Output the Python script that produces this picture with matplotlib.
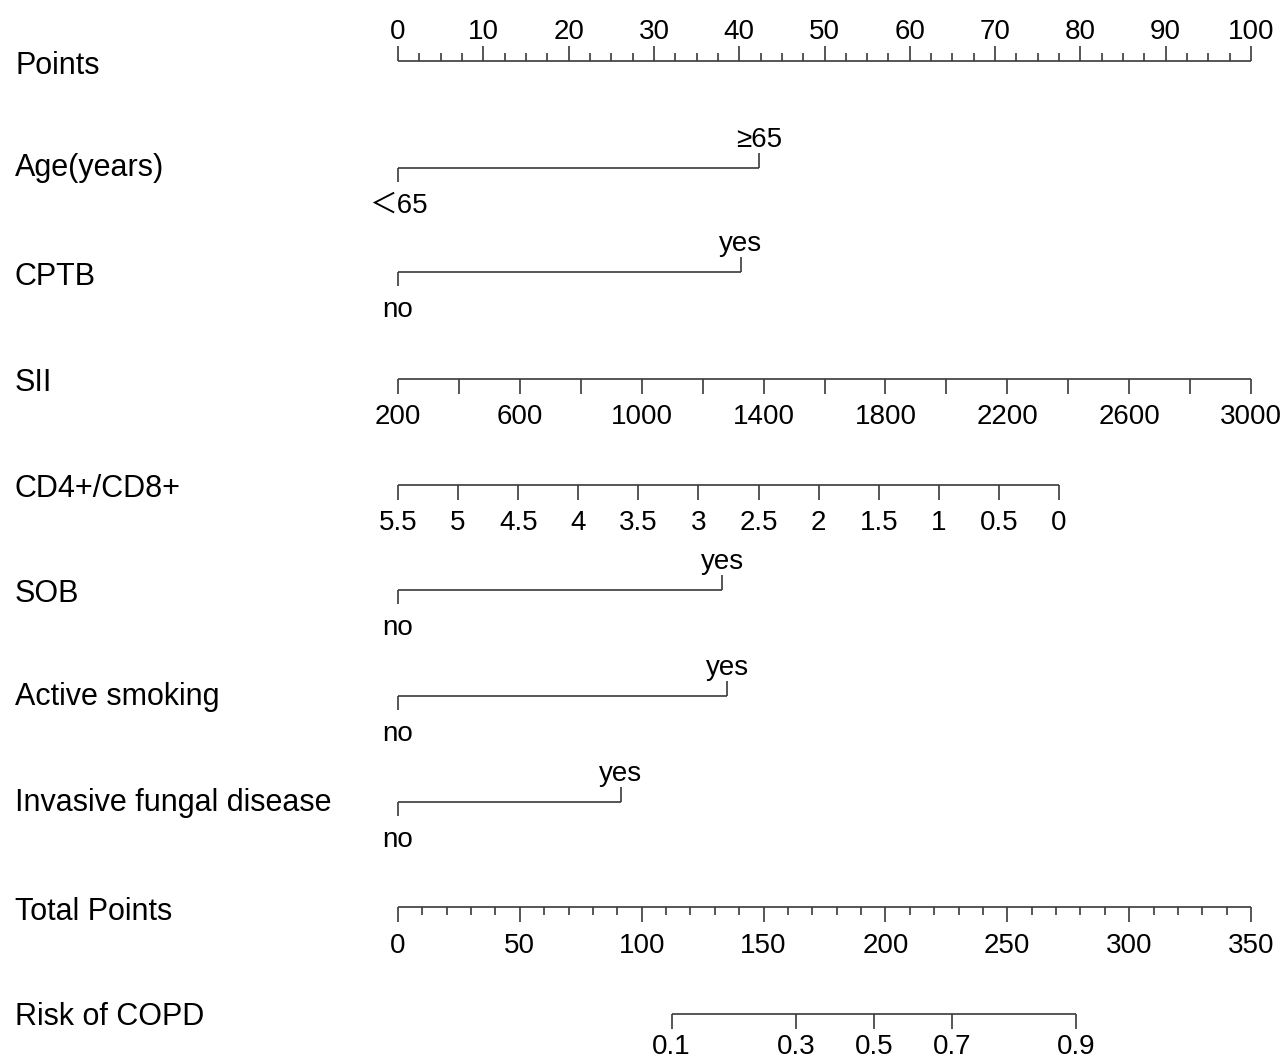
import numpy as np
import matplotlib.pyplot as plt

plt.rcParams['font.family'] = ['Liberation Sans', 'Noto Sans CJK SC', 'DejaVu Sans']

# row labels (top to bottom)
row_names = ['Points', 'Age(years)', 'CPTB', 'SII', 'CD4+/CD8+', 'SOB',
             'Active smoking', 'Invasive fungal disease', 'Total Points', 'Risk of COPD']

# binary predictors: points of the second level
age_levels = ['＜65', '≥65']
age_pts = [0, 42.3]
cptb_levels = ['no', 'yes']
cptb_pts = [0, 40.2]
sob_levels = ['no', 'yes']
sob_pts = [0, 38.0]
smoke_levels = ['no', 'yes']
smoke_pts = [0, 38.6]
ifd_levels = ['no', 'yes']
ifd_pts = [0, 26.1]

# continuous predictors
sii_ticks = np.arange(200, 3001, 200)
sii_labels = [200, 600, 1000, 1400, 1800, 2200, 2600, 3000]
sii_range = (200, 3000)          # -> 0..100 points
cd4_ticks = [5.5, 5, 4.5, 4, 3.5, 3, 2.5, 2, 1.5, 1, 0.5, 0]
cd4_max_pts = 77.5               # points at CD4/CD8 = 0

# total points and risk
total_max = 350
total_labels = [0, 50, 100, 150, 200, 250, 300, 350]
risk_ticks = [0.1, 0.3, 0.5, 0.7, 0.9]
risk_mid_total = 195.3           # total points where risk = 0.5
risk_scale = 37.8                # total points per logit unit

# layout (pixel rows)
W, H = 1286, 1061
x0, x1 = 398, 1251
row_y = [61, 168, 272, 379, 485, 590, 696, 802, 907, 1014]
label_y = [66, 168, 277, 383, 489, 594, 697, 803, 912, 1017]
FS_ROW = 22
FS = 20
LC = '#3a3a3a'
LW = 1.2
MAJ, MIN = 15, 8

fig = plt.figure(figsize=(W / 100, H / 100), dpi=100)
ax = fig.add_axes([0, 0, 1, 1])
ppp = (x1 - x0) / 100.0
ax.set_xlim(-x0 / ppp, (W - x0) / ppp)
ax.set_ylim(H, 0)
ax.axis('off')

for name, y in zip(row_names, label_y):
    ax.text(15 / W, y, name, transform=ax.get_yaxis_transform(),
            ha='left', va='center', fontsize=FS_ROW)


def hline(y, a, b):
    ax.plot([a, b], [y, y], color=LC, lw=LW, solid_capstyle='butt')


def tick(x, y, length):
    ax.plot([x, x], [y, y + length], color=LC, lw=LW, solid_capstyle='butt')


# Points axis (labels above)
y = row_y[0]
hline(y, 0, 100)
for v in np.arange(0, 100.1, 2.5):
    tick(v, y, -MAJ if v % 10 == 0 else -MIN)
for v in range(0, 101, 10):
    ax.text(v, y - 29, str(v), ha='center', va='center', fontsize=FS)


def binary(y, levels, pts):
    hline(y, pts[0], pts[1])
    tick(pts[0], y, 14)
    tick(pts[1], y, -15)
    ax.text(pts[0], y + 38, levels[0], ha='center', va='center', fontsize=FS)
    ax.text(pts[1], y - 28, levels[1], ha='center', va='center', fontsize=FS)


binary(row_y[1], age_levels, age_pts)
binary(row_y[2], cptb_levels, cptb_pts)

# SII
y = row_y[3]
sii_p = lambda v: (v - sii_range[0]) / (sii_range[1] - sii_range[0]) * 100
hline(y, 0, 100)
for v in sii_ticks:
    tick(sii_p(v), y, MAJ)
for v in sii_labels:
    ax.text(sii_p(v), y + 38, str(v), ha='center', va='center', fontsize=FS)

# CD4+/CD8+
y = row_y[4]
cd4_p = lambda v: (5.5 - v) / 5.5 * cd4_max_pts
hline(y, 0, cd4_max_pts)
for v in cd4_ticks:
    tick(cd4_p(v), y, MAJ)
    ax.text(cd4_p(v), y + 38, f'{v:g}', ha='center', va='center', fontsize=FS)

binary(row_y[5], sob_levels, sob_pts)
binary(row_y[6], smoke_levels, smoke_pts)
binary(row_y[7], ifd_levels, ifd_pts)

# Total points
y = row_y[8]
tot_p = lambda v: v / total_max * 100
hline(y, 0, 100)
for v in range(0, total_max + 1, 10):
    tick(tot_p(v), y, MAJ if v % 50 == 0 else MIN)
for v in total_labels:
    ax.text(tot_p(v), y + 39, str(v), ha='center', va='center', fontsize=FS)

# Risk
y = row_y[9]
risk_p = lambda p: tot_p(risk_mid_total + risk_scale * np.log(p / (1 - p)))
hline(y, risk_p(risk_ticks[0]), risk_p(risk_ticks[-1]))
for p in risk_ticks:
    tick(risk_p(p), y, MAJ)
    ax.text(risk_p(p), y + 33, f'{p:g}', ha='center', va='center', fontsize=FS)

fig.savefig('out.png', dpi=100, facecolor='white')
